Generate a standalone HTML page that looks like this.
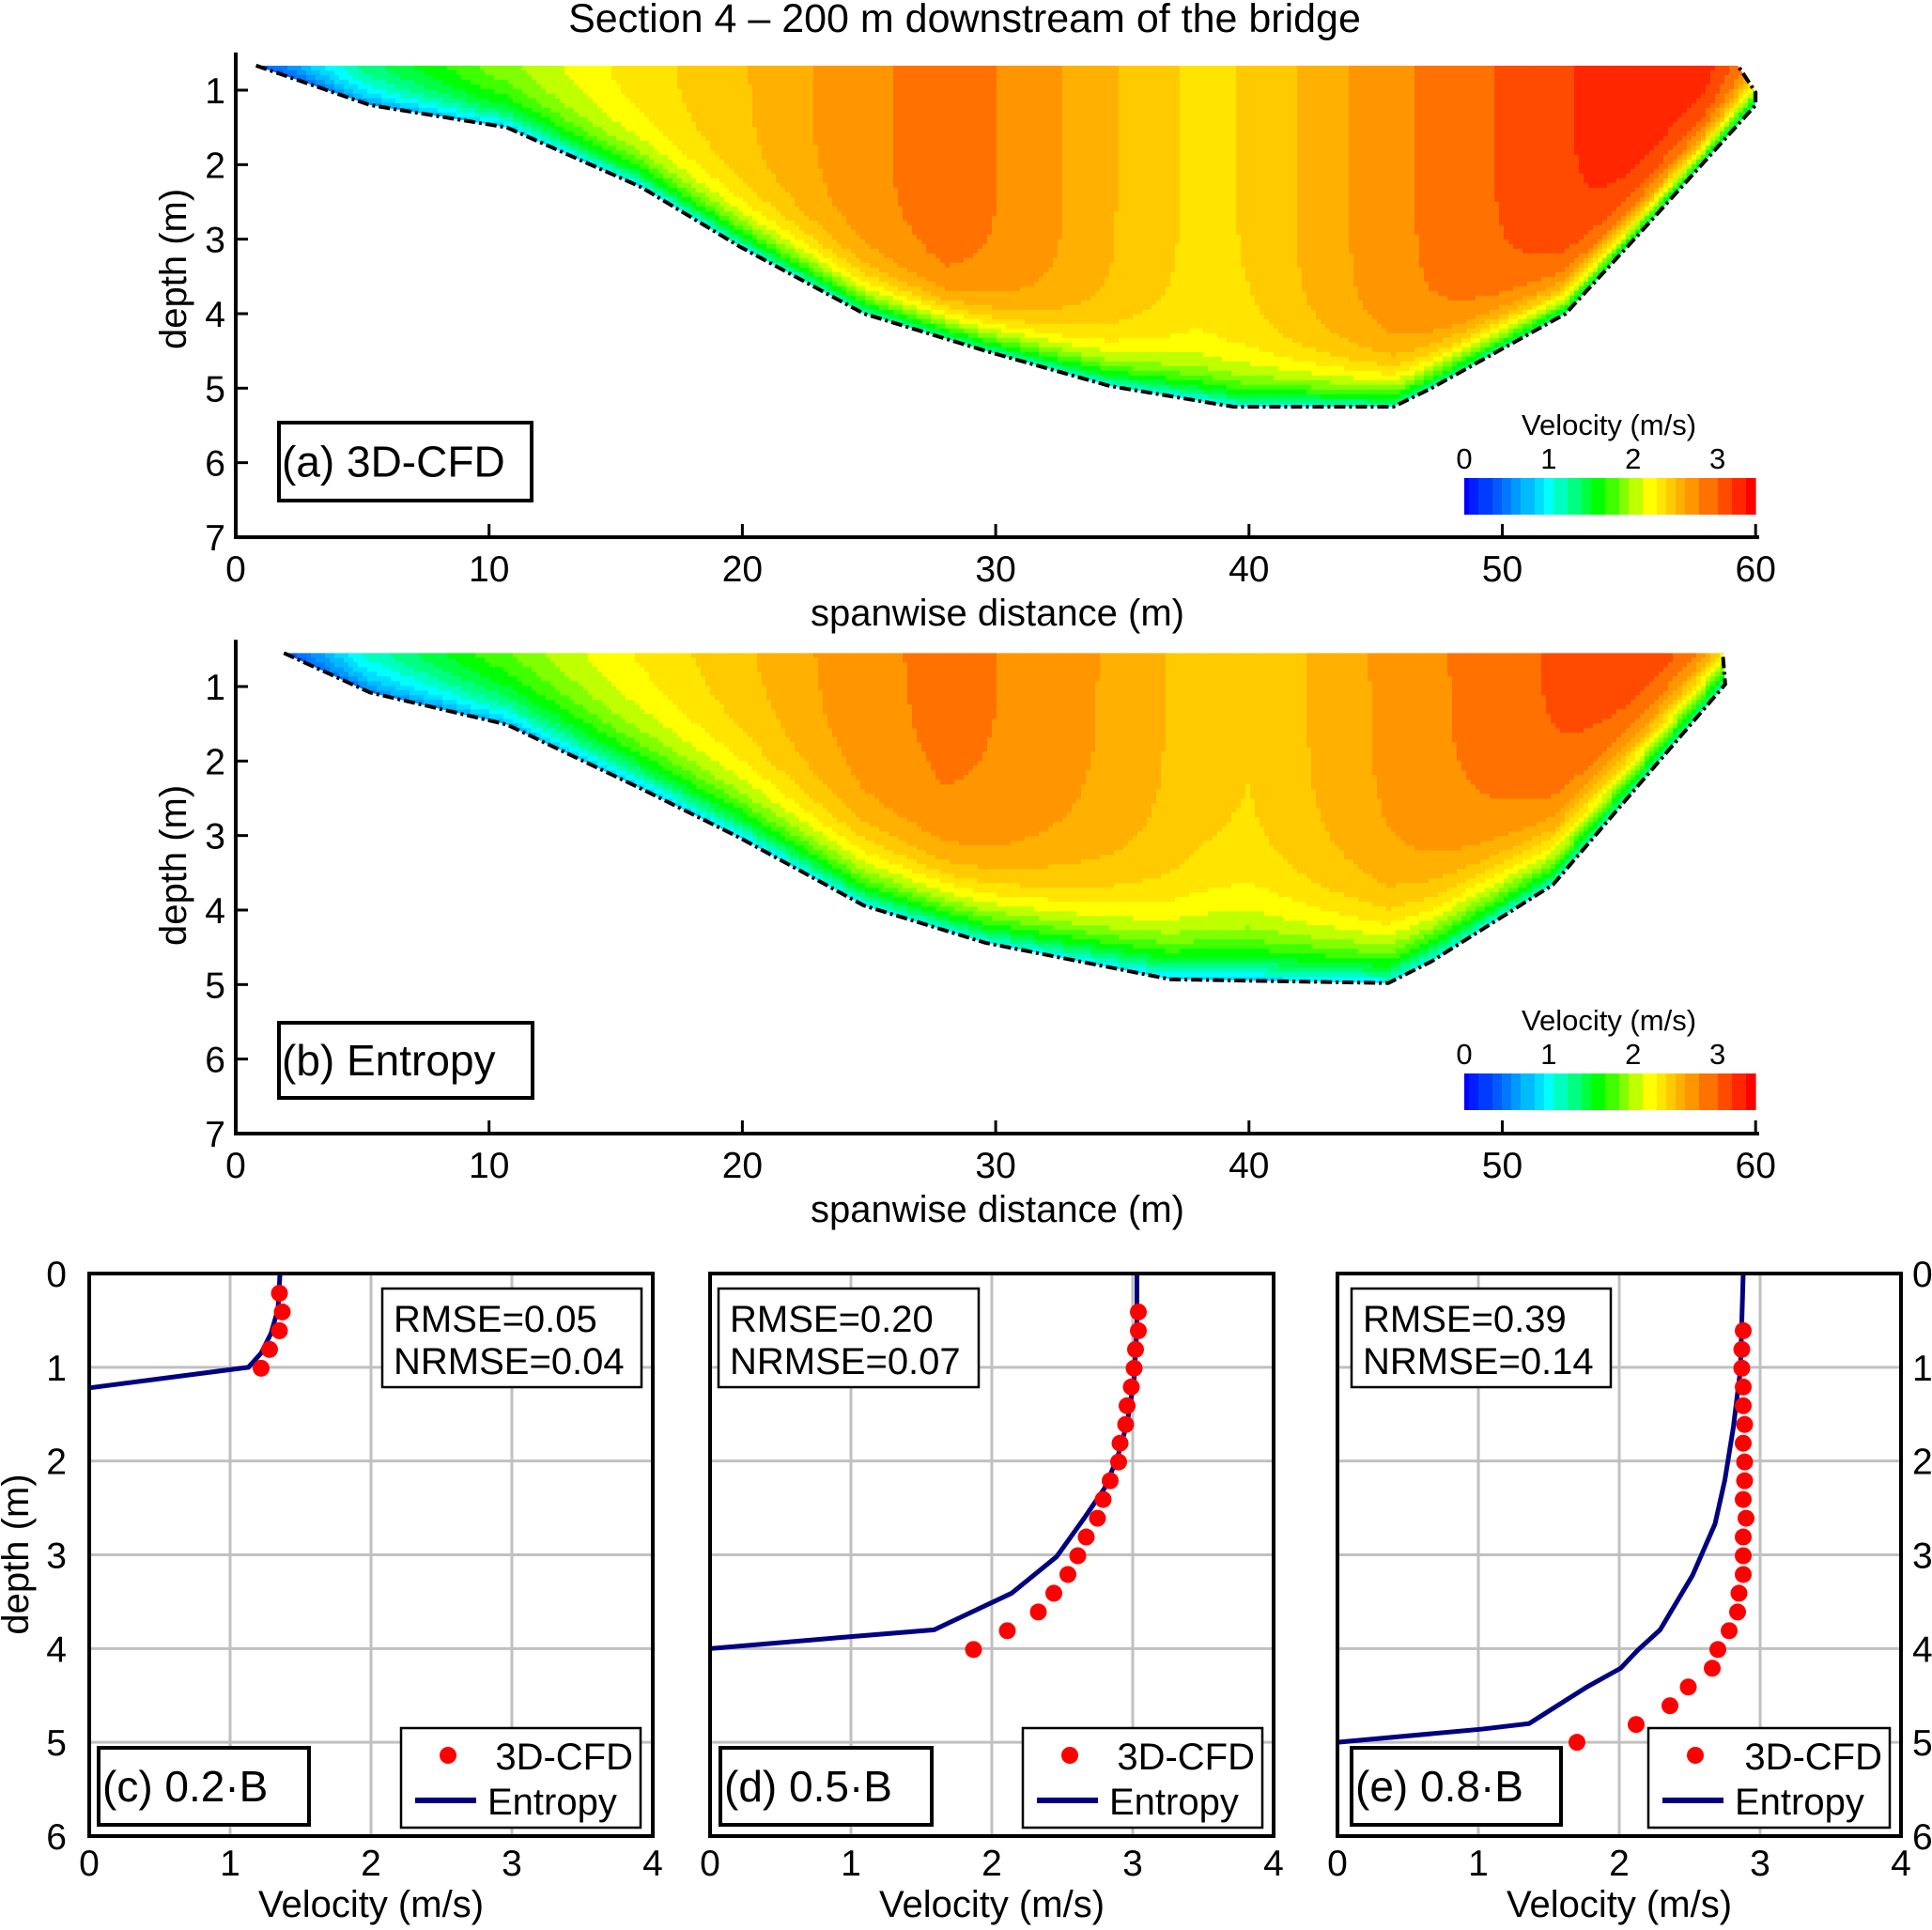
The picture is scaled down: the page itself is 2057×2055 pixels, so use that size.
<!DOCTYPE html>
<html><head><meta charset="utf-8"><style>
html,body{margin:0;padding:0;background:#fff}
svg text{font-family:"Liberation Sans",Arial,sans-serif;fill:#000}
</style></head><body>
<svg id="fig" width="2057" height="2050" viewBox="0 0 2057 2050" xmlns="http://www.w3.org/2000/svg">
<text x="1027" y="34" font-size="43" text-anchor="middle">Section 4 – 200 m downstream of the bridge</text>
<g id="pa"></g>
<g id="pb"></g>
<g id="pc"></g>
<g id="pd"></g>
<g id="pe"></g>
</svg>
<script>
// ---- contour data ----
const bedA_x=[0.8,5.3,10.7,16.0,19.9,24.8,29.6,34.5,39.4,45.7,47.2,52.5,55.4,60,60,59.3];
const bedA_d=[0.67,1.2,1.5,2.3,3.1,4.0,4.5,4.97,5.25,5.25,5.0,4.0,2.93,1.2,1.03,0.67];
const bedB_x=[1.9,5.3,10.7,16.0,19.9,24.8,29.6,36.9,45.5,47.2,52.0,58.8,58.7];
const bedB_d=[0.55,1.08,1.51,2.37,3.03,3.94,4.44,4.93,4.98,4.69,3.66,0.97,0.55];
const surfX=[0,2,5,10,15,20,25,28,30,35,38,40,45,50,55,58,60];
const surfA=[0.9,1.0,1.5,2.0,2.3,2.5,2.75,2.9,2.8,2.5,2.35,2.4,2.7,3.0,3.3,3.3,3.0];
const surfB=[0.9,1.0,1.5,2.0,2.3,2.5,2.75,2.85,2.8,2.6,2.45,2.4,2.65,2.9,3.2,3.25,3.1];
const xTicks=[0,10,20,30,40,50,60];
const dTicks=[1,2,3,4,5,6,7];
const cbTicks=[0,1,2,3];
// ---- profile data ----
const cDotV=[1.35,1.37,1.35,1.28,1.22];
const cDotD=[0.21,0.41,0.61,0.81,1.01];
const cLineV=[1.354,1.34,1.29,1.22,1.13,0];
const cLineD=[0,0.38,0.64,0.85,1.0,1.22];
const dDotV=[3.04,3.04,3.02,3.01,2.99,2.96,2.95,2.91,2.90,2.84,2.79,2.75,2.67,2.61,2.54,2.44,2.33,2.11,1.87];
const dDotD=[0.41,0.61,0.81,1.01,1.21,1.41,1.61,1.81,2.01,2.21,2.41,2.61,2.81,3.01,3.21,3.41,3.61,3.81,4.01];
const dLineV=[3.03,3.03,3.01,2.96,2.89,2.80,2.66,2.46,2.14,1.59,0.94,0];
const dLineD=[0,0.57,1.13,1.6,1.97,2.29,2.6,3.02,3.41,3.8,3.88,4.0];
const eDotV=[2.88,2.87,2.87,2.88,2.88,2.89,2.88,2.89,2.89,2.88,2.90,2.88,2.88,2.88,2.85,2.84,2.78,2.70,2.66,2.49,2.36,2.12,1.70];
const eDotD=[0.61,0.81,1.01,1.21,1.41,1.61,1.81,2.01,2.21,2.41,2.61,2.81,3.01,3.21,3.41,3.61,3.81,4.01,4.21,4.41,4.61,4.81,5.0];
const eLineV=[2.88,2.86,2.81,2.75,2.68,2.52,2.29,2.13,2.01,1.77,1.36,1.02,0];
const eLineD=[0,1.03,1.64,2.2,2.67,3.22,3.8,4.02,4.21,4.41,4.8,4.86,5.0];
const vTicks=[0,1,2,3,4];
const pdTicks=[0,1,2,3,4,5,6];

const NS='http://www.w3.org/2000/svg';
function mk(parent,tag,attrs,txt){const e=document.createElementNS(NS,tag);for(const k in attrs)e.setAttribute(k,attrs[k]);if(txt!==undefined)e.textContent=txt;parent.appendChild(e);return e;}
function interp(xs,ys,x){if(x<=xs[0])return ys[0];for(let i=1;i<xs.length;i++){if(x<=xs[i]){const t=(x-xs[i-1])/((xs[i]-xs[i-1])||1);return ys[i-1]+t*(ys[i]-ys[i-1]);}}return ys[ys.length-1];}
const cmS=[0,0.5,1.0,1.6,2.2,2.7,3.45];
const cmC=[[0,0,255],[0,120,255],[0,255,255],[0,255,0],[255,255,0],[255,150,0],[255,0,0]];
function cmap(v){v=Math.max(0,Math.min(3.45,v));let i=1;while(i<cmS.length-1&&v>cmS[i])i++;const t=(v-cmS[i-1])/(cmS[i]-cmS[i-1]);const a=cmC[i-1],b=cmC[i];
const q=Math.round(t*4)/4;return 'rgb('+a.map((c,k)=>Math.round(c+q*(b[k]-c))).join(',')+')';}

function contourPanel(g,id,bx,bd,surf,Y0,surfD,blt,floor,label,labelBox,cbY){
  const X=x=>251+x*26.97, Y=d=>Y0+(d-1)*79.33;
  const monoX=[],monoD=[];
  for(let i=0;i<bx.length;i++){if(i===0||bx[i]>monoX[monoX.length-1]){monoX.push(bx[i]);monoD.push(bd[i]);}}
  let pts=bx.map((x,i)=>X(x)+','+Y(bd[i])).join(' ');
  const cp=mk(g,'clipPath',{id:'clip'+id});
  mk(cp,'polygon',{points:pts});
  const cg=mk(g,'g',{'clip-path':'url(#clip'+id+')'});
  
  
  const step=5;
  for(let px=X(0);px<X(60)+step;px+=step){
    const x=(px+step/2-251)/26.97;
    const bed=interp(monoX,monoD,x);
    for(let py=Y(surfD);py<Y(5.4);py+=step){
      const d=(py+step/2-Y0)/79.33+1;
      const h=Math.max(0,bed-d);
      const v=interp(surfX,surf,x)*(floor+(1-floor)*(1-Math.exp(-h/blt)));
      mk(cg,'rect',{x:px,y:py,width:step+0.6,height:step+0.6,fill:cmap(v)});
    }
  }
  const bl=mk(g,'polyline',{points:pts,fill:'none',stroke:'#000','stroke-width':4,'stroke-dasharray':'12,4,3,4'});
  
  
  const bottom=Y(7);
  mk(g,'line',{x1:251,y1:Y(surfD)-14,x2:251,y2:bottom+2,stroke:'#000','stroke-width':4});
  mk(g,'line',{x1:249,y1:bottom,x2:1873,y2:bottom,stroke:'#000','stroke-width':4});
  xTicks.forEach(t=>{mk(g,'line',{x1:X(t),y1:bottom,x2:X(t),y2:bottom-14,stroke:'#000','stroke-width':3});
    const tx=mk(g,'text',{x:X(t),y:bottom+47,'font-size':39,'text-anchor':'middle'},t);
    
    });
  dTicks.forEach(t=>{mk(g,'line',{x1:251,y1:Y(t),x2:264,y2:Y(t),stroke:'#000','stroke-width':3});
    const tx=mk(g,'text',{x:240,y:Y(t)+14,'font-size':39,'text-anchor':'end'},t);
    
    });
  const xl=mk(g,'text',{x:1062,y:bottom+94,'font-size':40,'text-anchor':'middle'},'spanwise distance (m)');
  
  
  const yc=Y(3.4);
  const yl=mk(g,'text',{x:198,y:yc,'font-size':40,'text-anchor':'middle',transform:'rotate(-90 198 '+yc+')'},'depth (m)');
  
  
  const lb=mk(g,'rect',{x:labelBox[0],y:labelBox[1],width:labelBox[2],height:labelBox[3],fill:'#fff',stroke:'#000','stroke-width':4});
  
  
  const lt=mk(g,'text',{x:labelBox[0]+3,y:labelBox[1]+labelBox[3]/2+16,'font-size':46},label);
  
  
  const cb=mk(g,'g',{});
  
  
  const CX=v=>1559+v*(310/3.45);
  for(let i=0;i<62;i++){const v=i*3.45/62;mk(cb,'rect',{x:1559+i*5,y:cbY,width:5.6,height:39,fill:cmap(v+0.03)});}
  cbTicks.forEach(t=>{mk(cb,'text',{x:CX(t),y:cbY-10,'font-size':31,'text-anchor':'middle'},t);});
  mk(cb,'text',{x:1713,y:cbY-46,'font-size':31,'text-anchor':'middle'},'Velocity (m/s)');
}
contourPanel(document.getElementById('pa'),'a',bedA_x,bedA_d,surfA,96,0.67,0.35,0.4,'(a) 3D-CFD',[297,450,269,83],509);
contourPanel(document.getElementById('pb'),'b',bedB_x,bedB_d,surfB,731,0.55,0.55,0.35,'(b) Entropy',[297,1089,270,80],1143);

function profilePanel(g,L,dv,dd,lv,ld,rm,nrm,label,rmBox,lgBox,lbBox,leftLabels,rightLabels){
  const T=1356,B=1955,W=600;
  const X=v=>L+v*W/4, Y=d=>T+d*(B-T)/6;
  vTicks.forEach(t=>{if(t>0&&t<4)mk(g,'line',{x1:X(t),y1:T,x2:X(t),y2:B,stroke:'#c0c0c0','stroke-width':3});
    const tx=mk(g,'text',{x:X(t),y:B+42,'font-size':39,'text-anchor':'middle'},t);
    
    });
  pdTicks.forEach(t=>{if(t>0&&t<6)mk(g,'line',{x1:L,y1:Y(t),x2:L+W,y2:Y(t),stroke:'#c0c0c0','stroke-width':3});
    if(leftLabels){const tx=mk(g,'text',{x:L-24,y:Y(t)+14,'font-size':39,'text-anchor':'end'},t);
      
      }
    if(rightLabels){const tx=mk(g,'text',{x:L+W+12,y:Y(t)+14,'font-size':39},t);
      
      }});
  const ln=mk(g,'polyline',{points:lv.map((v,i)=>X(v)+','+Y(ld[i])).join(' '),fill:'none',stroke:'#000080','stroke-width':5});
  
  
  dv.forEach((v,i)=>{const c=mk(g,'circle',{cx:X(v),cy:Y(dd[i]),r:9,fill:'#ff0000'});
    
    });
  mk(g,'rect',{x:L,y:T,width:W,height:B-T,fill:'none',stroke:'#000','stroke-width':4});
  const rb=mk(g,'g',{});
  
  
  mk(rb,'rect',{x:rmBox[0],y:1372,width:rmBox[1]-rmBox[0],height:105,fill:'#fff',stroke:'#000','stroke-width':2.5});
  mk(rb,'text',{x:rmBox[0]+12,y:1418,'font-size':40},'RMSE='+rm);
  mk(rb,'text',{x:rmBox[0]+12,y:1463,'font-size':40},'NRMSE='+nrm);
  const lg=mk(g,'g',{});
  
  
  mk(lg,'rect',{x:lgBox[0],y:1840,width:lgBox[1]-lgBox[0],height:106,fill:'#fff',stroke:'#000','stroke-width':2.5});
  mk(lg,'circle',{cx:lgBox[0]+50,cy:1869,r:9,fill:'#ff0000'});
  mk(lg,'text',{x:lgBox[1]-8,y:1884,'font-size':40,'text-anchor':'end'},'3D-CFD');
  mk(lg,'line',{x1:lgBox[0]+15,y1:1917,x2:lgBox[0]+80,y2:1917,stroke:'#000080','stroke-width':6});
  mk(lg,'text',{x:lgBox[0]+92,y:1932,'font-size':40},'Entropy');
  const lb=mk(g,'g',{});
  
  
  mk(lb,'rect',{x:lbBox[0],y:1861,width:lbBox[1]-lbBox[0],height:82,fill:'#fff',stroke:'#000','stroke-width':4});
  mk(lb,'text',{x:lbBox[0]+4,y:1918,'font-size':46},label);
  const xl=mk(g,'text',{x:L+W/2,y:2041,'font-size':40,'text-anchor':'middle'},'Velocity (m/s)');
  
  
}
profilePanel(document.getElementById('pc'),95,cDotV,cDotD,cLineV,cLineD,'0.05','0.04','(c) 0.2·B',[407,683],[427,682],[105,329],true,false);
profilePanel(document.getElementById('pd'),756,dDotV,dDotD,dLineV,dLineD,'0.20','0.07','(d) 0.5·B',[765,1042],[1089,1344],[767,992],false,false);
profilePanel(document.getElementById('pe'),1424,eDotV,eDotD,eLineV,eLineD,'0.39','0.14','(e) 0.8·B',[1439,1715],[1755,2012],[1439,1662],false,true);
const fig=document.getElementById('fig');
const yl=mk(fig,'text',{x:30,y:1655,'font-size':40,'text-anchor':'middle',transform:'rotate(-90 30 1655)'},'depth (m)');


</script>
</body></html>
